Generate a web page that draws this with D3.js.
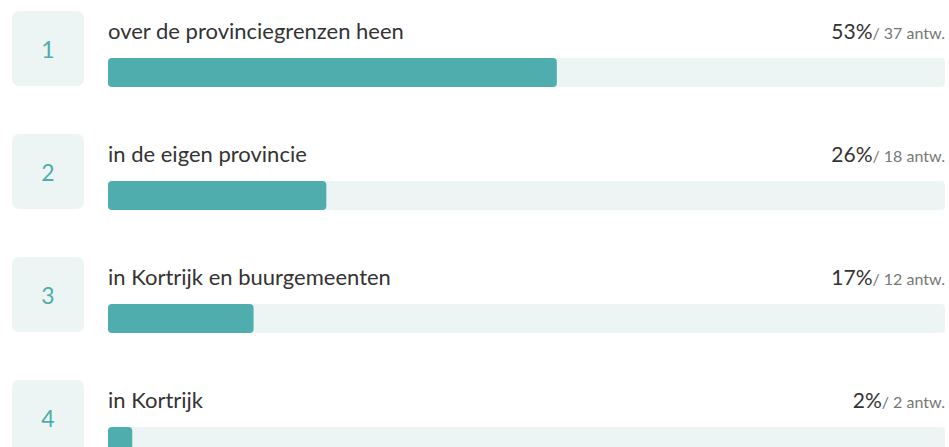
<!DOCTYPE html>
<html>
<head>
<meta charset="utf-8">
<script src="https://cdn.jsdelivr.net/npm/d3@7"></script>
<style>
  body { margin: 0; background: #fff; }
  svg { display: block; font-family: "Source Sans Pro", Lato, "Noto Sans", sans-serif; }
</style>
</head>
<body>
<div id="chart"></div>
<script>
var labels = ["over de provinciegrenzen heen", "in de eigen provincie", "in Kortrijk en buurgemeenten", "in Kortrijk"];
var counts = [37, 18, 12, 2];
var percents = [53, 26, 17, 2];

var width = 949, height = 447;
var total = d3.sum(counts);

var svg = d3.select("#chart").append("svg")
    .attr("width", width)
    .attr("height", height);

var y = d3.scaleBand()
    .domain(d3.range(labels.length))
    .range([11, 11 + 123 * labels.length]);

var x = d3.scaleLinear()
    .domain([0, 1])
    .range([108, 945]);

var rows = svg.selectAll("g.row")
    .data(labels)
    .enter().append("g")
    .attr("class", "row")
    .attr("transform", function(d, i){ return "translate(0," + y(i) + ")"; });

// number box
rows.append("rect")
    .attr("x", 12).attr("y", 0)
    .attr("width", 72).attr("height", 75)
    .attr("rx", 7)
    .style("fill", "#edf5f4");

rows.append("text")
    .attr("x", 48).attr("y", 47)
    .attr("text-anchor", "middle")
    .style("font-size", "23px")
    .style("fill", "#4fadaa")
    .text(function(d, i){ return i + 1; });

// label
rows.append("text")
    .attr("x", 108).attr("y", 28)
    .style("font-size", "22px")
    .style("fill", "#333")
    .text(function(d){ return d; });

// track + bar
rows.append("rect")
    .attr("x", x(0)).attr("y", 47)
    .attr("width", x(1) - x(0)).attr("height", 29)
    .attr("rx", 4)
    .style("fill", "#edf5f4");

rows.append("rect")
    .attr("x", x(0)).attr("y", 47)
    .attr("width", function(d, i){ return x(counts[i] / total) - x(0); })
    .attr("height", 29)
    .attr("rx", 4)
    .style("fill", "#4fadad");

// value text
var vt = rows.append("text")
    .attr("x", 945).attr("y", 28)
    .attr("text-anchor", "end")
    .style("fill", "#333");

vt.append("tspan")
    .style("font-size", "21px")
    .text(function(d, i){ return percents[i] + "%"; });

vt.append("tspan")
    .style("font-size", "16px")
    .style("fill", "#777")
    .text(function(d, i){ return "/ " + counts[i] + " antw."; });
</script>
</body>
</html>
